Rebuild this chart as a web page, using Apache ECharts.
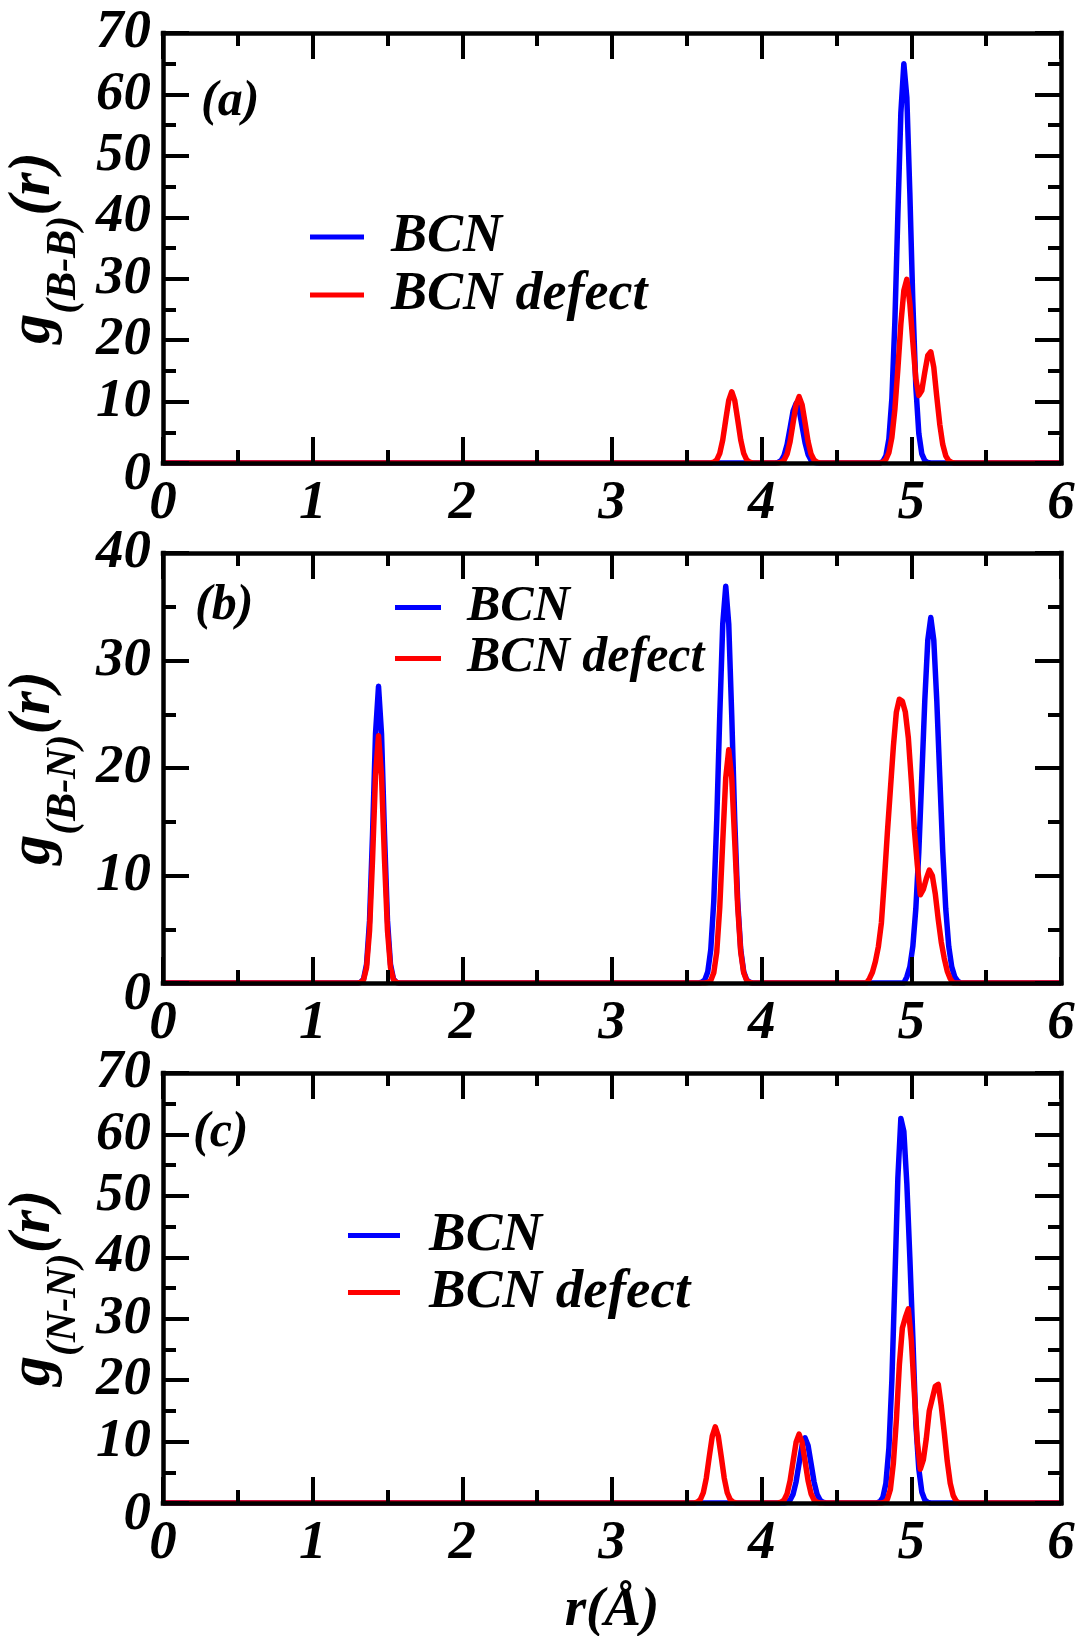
<!DOCTYPE html>
<html><head><meta charset="utf-8">
<script src="https://cdn.jsdelivr.net/npm/echarts@6/dist/echarts.min.js"></script>
<style>html,body{margin:0;padding:0;background:#fff}#c{width:1081px;height:1636px}</style>
</head><body><div id="c"></div>
<script>
// ---- data ----
const panelLabels = ['(a)', '(b)', '(c)'];
const pairNames = ['(B-B)', '(B-N)', '(N-N)'];
const seriesNames = ['BCN', 'BCN defect'];
const yMaxes = [70, 40, 70];
const xTitle = 'r(Å)';

const bbBCN = [[0,0],[4.09,0],[4.11,0.1],[4.13,0.4],[4.15,1.25],[4.17,3.0],[4.19,5.7],[4.21,8.45],[4.23,9.7],[4.25,8.7],[4.27,6.0],[4.29,3.3],[4.31,1.4],[4.33,0.45],[4.35,0.12],[4.37,0],
  [4.79,0],[4.81,0.28],[4.83,1.16],[4.85,3.9],[4.87,10.5],[4.89,23.0],[4.91,40.4],[4.93,57.0],[4.95,65.0],[4.97,59.5],[4.99,44.0],[5.01,26.2],[5.03,12.5],[5.05,4.8],[5.07,1.5],[5.09,0.38],[5.11,0.08],[5.13,0],[6,0]];
const bbDef = [[0,0],[3.66,0],[3.68,0.13],[3.70,0.51],[3.72,1.57],[3.74,3.77],[3.76,7.04],[3.78,10.2],[3.80,11.6],[3.82,10.2],[3.84,7.04],[3.86,3.77],[3.88,1.57],[3.90,0.51],[3.92,0.13],[3.94,0],
  [4.11,0],[4.13,0.12],[4.15,0.48],[4.17,1.46],[4.19,3.5],[4.21,6.55],[4.23,9.5],[4.25,10.8],[4.27,9.5],[4.29,6.55],[4.31,3.5],[4.33,1.46],[4.35,0.48],[4.37,0.12],[4.39,0],
  [4.79,0],[4.81,0.16],[4.83,0.57],[4.85,1.67],[4.87,4.16],[4.89,8.7],[4.91,15.3],[4.93,22.6],[4.95,28.1],[4.97,29.9],[4.99,26.0],[5.01,19.7],[5.03,13.7],[5.05,11.0],[5.07,11.8],[5.09,14.8],[5.11,17.5],[5.13,18.1],[5.15,15.6],[5.17,10.8],[5.19,6.3],[5.21,3.0],[5.23,1.17],[5.25,0.37],[5.27,0.1],[5.29,0],[6,0]];
const bnBCN = [[0,0],[1.30,0],[1.32,0.05],[1.34,0.36],[1.36,1.73],[1.38,5.8],[1.40,13.8],[1.42,23.2],[1.44,27.6],[1.46,23.2],[1.48,13.8],[1.50,5.8],[1.52,1.73],[1.54,0.36],[1.56,0.05],[1.58,0],
  [3.58,0],[3.60,0.07],[3.62,0.29],[3.64,1.05],[3.66,3.1],[3.68,7.6],[3.70,15.2],[3.72,24.9],[3.74,33.4],[3.76,36.9],[3.78,33.4],[3.80,24.9],[3.82,15.2],[3.84,7.6],[3.86,3.1],[3.88,1.05],[3.90,0.29],[3.92,0.07],[3.94,0],
  [4.95,0],[4.97,0.57],[4.99,1.5],[5.01,3.4],[5.03,6.9],[5.05,12.2],[5.07,19.2],[5.09,26.3],[5.11,31.9],[5.13,34.0],[5.15,31.9],[5.17,26.3],[5.19,19.2],[5.21,12.2],[5.23,6.9],[5.25,3.4],[5.27,1.5],[5.29,0.57],[5.31,0.18],[5.33,0],[6,0]];
const bnDef = [[0,0],[1.30,0],[1.32,0.04],[1.34,0.3],[1.36,1.44],[1.38,4.85],[1.40,11.5],[1.42,19.3],[1.44,23.0],[1.46,19.3],[1.48,11.5],[1.50,4.85],[1.52,1.44],[1.54,0.3],[1.56,0.04],[1.58,0],
  [3.62,0],[3.64,0.05],[3.66,0.24],[3.68,0.95],[3.70,2.9],[3.72,7.05],[3.74,13.2],[3.76,19.1],[3.78,21.7],[3.80,19.1],[3.82,13.2],[3.84,7.05],[3.86,2.9],[3.88,0.95],[3.90,0.24],[3.92,0.05],[3.94,0],
  [4.70,0],[4.72,0.4],[4.74,1.0],[4.76,2.0],[4.78,3.4],[4.80,5.6],[4.82,9.6],[4.84,14.0],[4.86,18.0],[4.88,22.0],[4.90,25.2],[4.92,26.4],[4.94,26.2],[4.96,25.2],[4.98,22.8],[5.00,18.8],[5.02,14.3],[5.04,11.0],[5.06,8.2],[5.08,8.7],[5.10,9.7],[5.12,10.5],[5.14,10.0],[5.16,8.3],[5.18,5.9],[5.20,3.8],[5.22,2.3],[5.24,1.1],[5.26,0.4],[5.28,0],[6,0]];
const nnBCN = [[0,0],[4.15,0],[4.17,0.12],[4.19,0.47],[4.21,1.43],[4.23,3.45],[4.25,6.43],[4.27,9.35],[4.29,10.6],[4.31,9.35],[4.33,6.43],[4.35,3.45],[4.37,1.43],[4.39,0.47],[4.41,0.12],[4.43,0],
  [4.75,0],[4.77,0.04],[4.79,0.21],[4.81,0.92],[4.83,3.2],[4.85,8.9],[4.87,20.0],[4.89,36.2],[4.91,52.9],[4.93,62.6],[4.95,60.5],[4.97,52.0],[4.99,40.0],[5.01,27.0],[5.03,13.0],[5.05,5.5],[5.07,1.8],[5.09,0.5],[5.11,0.1],[5.13,0],[6,0]];
const nnDef = [[0,0],[3.55,0],[3.57,0.14],[3.59,0.55],[3.61,1.67],[3.63,4.03],[3.65,7.53],[3.67,10.9],[3.69,12.4],[3.71,10.9],[3.73,7.53],[3.75,4.03],[3.77,1.67],[3.79,0.55],[3.81,0.14],[3.83,0],
  [4.11,0],[4.13,0.12],[4.15,0.49],[4.17,1.51],[4.19,3.64],[4.21,6.8],[4.23,9.88],[4.25,11.2],[4.27,9.88],[4.29,6.8],[4.31,3.64],[4.33,1.51],[4.35,0.49],[4.37,0.12],[4.39,0],
  [4.80,0],[4.82,0.1],[4.84,0.6],[4.86,2.2],[4.88,6.5],[4.90,13.5],[4.92,22.5],[4.94,28.5],[4.96,30.2],[4.98,31.6],[5.00,26.5],[5.02,18.0],[5.04,10.0],[5.06,5.5],[5.08,7.0],[5.10,10.5],[5.12,15.0],[5.14,17.0],[5.16,19.0],[5.18,19.3],[5.20,15.8],[5.22,11.5],[5.24,6.8],[5.26,3.2],[5.28,1.2],[5.30,0.3],[5.32,0],[6,0]];

const panelData = [[bbBCN, bbDef], [bnBCN, bnDef], [nnBCN, nnDef]];

// ---- layout / style ----
const FONT = '"Liberation Serif", "Times New Roman", serif';
const colors = ['#0000ff', '#ff0000'];
const gridTops = [33, 553, 1073];
const labelPos = [[201, 77], [195, 581], [193, 1108]];
const legendLayout = [
  {left: 310, top: 208, w: 54, fs: 54, lh: 50, pad: 22},
  {left: 395, top: 582, w: 46, fs: 50, lh: 43, pad: 21},
  {left: 348, top: 1207, w: 52, fs: 55, lh: 49, pad: 24}
];
const base = {fontFamily: FONT, fontWeight: 'bold', fontStyle: 'italic', color: '#000'};
const lineBlack = {color: '#000', width: 4.5, cap: 'square'};

const grid = [], xAxis = [], yAxis = [], series = [], title = [], legend = [];
for (let i = 0; i < 3; i++) {
  grid.push({left: 163, top: gridTops[i], width: 898, height: 430, containLabel: false, outerBoundsMode: 'none'});
  ['bottom', 'top'].forEach(function (pos) {
    const ax = {
      gridIndex: i, type: 'value', min: 0, max: 6, interval: 1, position: pos, z: 5,
      axisLine: {show: true, onZero: false, lineStyle: lineBlack},
      axisTick: {show: true, inside: true, length: 26, lineStyle: {color: '#000', width: 4}},
      minorTick: {show: true, splitNumber: 2, length: 13, lineStyle: {color: '#000', width: 4}},
      splitLine: {show: false}, minorSplitLine: {show: false},
      axisLabel: Object.assign({show: pos === 'bottom', fontSize: 55, margin: 13}, base)
    };
    if (pos === 'bottom' && i === 2) {
      ax.name = xTitle; ax.nameLocation = 'middle'; ax.nameGap = 80;
      ax.nameTextStyle = Object.assign({fontSize: 55}, base);
    }
    xAxis.push(ax);
  });
  ['left', 'right'].forEach(function (pos) {
    const ay = {
      gridIndex: i, type: 'value', min: 0, max: yMaxes[i], interval: 10, position: pos, z: 5,
      axisLine: {show: true, onZero: false, lineStyle: lineBlack},
      axisTick: {show: true, inside: true, length: 26, lineStyle: {color: '#000', width: 4}},
      minorTick: {show: true, splitNumber: 2, length: 13, lineStyle: {color: '#000', width: 4}},
      splitLine: {show: false}, minorSplitLine: {show: false},
      axisLabel: Object.assign({
        show: pos === 'left', fontSize: 55, margin: 12,
        formatter: function (v) { return v === 0 ? '{z|0}' : String(v); },
        rich: {z: Object.assign({fontSize: 55, padding: [24, 0, 0, 0]}, base)}
      }, base)
    };
    if (pos === 'left') {
      ay.name = '{g|g}{s|' + pairNames[i] + '}{g|(r)}';
      ay.nameLocation = 'middle'; ay.nameRotate = 90; ay.nameGap = 68;
      ay.nameTextStyle = Object.assign({fontSize: 60}, base, {rich: {
        g: Object.assign({fontSize: 60, lineHeight: 60, verticalAlign: 'top'}, base),
        s: Object.assign({fontSize: 42, lineHeight: 42, verticalAlign: 'top', padding: [40, 0, 0, 0]}, base)
      }});
    }
    yAxis.push(ay);
  });
  for (let k = 0; k < 2; k++) {
    series.push({
      type: 'line', name: seriesNames[k], xAxisIndex: 2 * i, yAxisIndex: 2 * i,
      data: panelData[i][k], showSymbol: false, symbol: 'none', z: 2,
      color: colors[k], itemStyle: {color: colors[k]},
      lineStyle: {color: colors[k], width: 5.5, join: 'round'}
    });
  }
  title.push({text: panelLabels[i], left: labelPos[i][0], top: labelPos[i][1], padding: 0,
    textStyle: Object.assign({fontSize: 50}, base)});
  const L = legendLayout[i];
  legend.push({
    left: L.left, top: L.top, orient: 'vertical', padding: 0, itemGap: 0,
    itemWidth: L.w, itemHeight: 5, icon: 'rect', selectedMode: false,
    textStyle: Object.assign({fontSize: L.fs, lineHeight: L.lh, padding: [8, 0, 0, L.pad]}, base),
    data: seriesNames.slice()
  });
}

const chart = echarts.init(document.getElementById('c'), null, {renderer: 'canvas'});
chart.setOption({animation: false, backgroundColor: '#fff', grid, xAxis, yAxis, series, title, legend});
</script></body></html>
